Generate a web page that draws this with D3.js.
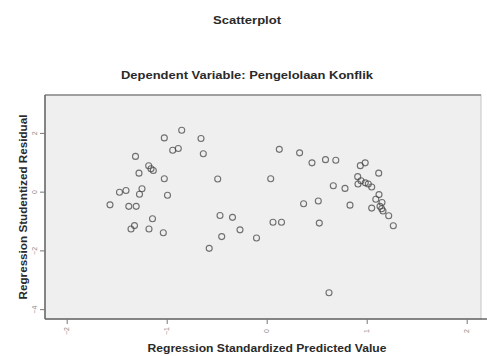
<!DOCTYPE html>
<html>
<head>
<meta charset="utf-8">
<script src="https://cdn.jsdelivr.net/npm/d3@7"></script>
<style>
  body { margin: 0; background: #fff; }
  text { font-family: Arial, "Liberation Sans", sans-serif; }
</style>
</head>
<body>
<svg id="chart" width="487" height="356"></svg>
<script>
// predicted (x) and studentized residual (y) values
const predicted = [
  -0.85, -1.024, -0.657, -0.884, -0.94, -0.634, -1.312, -1.18, -1.157, -1.134,
  -1.277, -1.024, -0.49, -1.247, -1.407, -1.472, -1.272, -0.992, -1.567, -1.379,
  -1.305, -1.142, -0.342, -0.267, -1.322, -1.357, -1.177, -1.034, -0.45, -0.575,
  -0.102, 0.623, 0.126, 0.329, 0.453, 0.588, 0.691, 0.985, 0.936, 1.12,
  0.04, 0.91, 0.943, 0.986, 1.016, 0.913, 1.05, 0.666, 0.783, 1.123,
  1.091, 1.153, 1.133, 1.05, 1.15, 1.163, 1.22, 1.266, 0.833, 0.516,
  0.369, 0.063, 0.148, 0.526, -0.467
];
const residual = [
  2.09, 1.83, 1.81, 1.47, 1.41, 1.29, 1.20, 0.88, 0.78, 0.72,
  0.63, 0.44, 0.43, 0.10, 0.04, -0.02, -0.09, -0.12, -0.45, -0.50,
  -0.50, -0.92, -0.875, -1.30, -1.156, -1.27, -1.27, -1.40, -1.53, -1.93,
  -1.58, -3.44, 1.44, 1.32, 0.98, 1.09, 1.07, 0.98, 0.885, 0.63,
  0.44, 0.51, 0.37, 0.30, 0.26, 0.26, 0.16, 0.20, 0.11, -0.10,
  -0.26, -0.37, -0.50, -0.56, -0.58, -0.66, -0.82, -1.16, -0.46, -0.32,
  -0.41, -1.04, -1.04, -1.07, -0.81
];
const xTicks = [-2, -1, 0, 1, 2];
const yTicks = [2, 0, -2, -4];

const svg = d3.select('#chart');
const plotLeft = 45, plotRight = 481, plotTop = 95, plotBottom = 319;

const x = d3.scaleLinear().domain([-2.217, 2.143]).range([plotLeft, plotRight]);
const y = d3.scaleLinear().domain([-4.335, 3.29]).range([plotBottom, plotTop]);

// helper for the bold labels, squeezed/stretched to the measured width
function label(sel, txt, size, len) {
  return sel.append('text')
    .attr('text-anchor', 'middle')
    .attr('font-size', size).attr('font-weight', 'bold').attr('fill', '#2a2a2a')
    .attr('textLength', len).attr('lengthAdjust', 'spacingAndGlyphs')
    .text(txt);
}

// titles
label(svg, 'Scatterplot', 10.5, 68).attr('x', 247).attr('y', 24);
label(svg, 'Dependent Variable: Pengelolaan Konflik', 11, 252).attr('x', 247).attr('y', 79);

// plot frame
svg.append('rect')
  .attr('x', plotLeft).attr('y', plotTop)
  .attr('width', plotRight - plotLeft).attr('height', plotBottom - plotTop)
  .attr('fill', '#efefef')
  .attr('stroke', '#c4c4c4').attr('stroke-width', 1);

svg.append('line')
  .attr('x1', plotLeft).attr('x2', plotRight).attr('y1', plotTop).attr('y2', plotTop)
  .attr('stroke', '#8a8a8a').attr('stroke-width', 1.5);

// axes
const xAxis = svg.append('g')
  .attr('transform', `translate(0,${plotBottom})`)
  .call(d3.axisBottom(x).tickValues(xTicks).tickSize(5).tickFormat(d3.format('d')));
xAxis.select('.domain').attr('stroke', '#666').attr('stroke-width', 1.5)
  .attr('d', `M${plotLeft},0H487`);
xAxis.selectAll('.tick line').attr('stroke', '#777');
xAxis.selectAll('.tick text')
  .attr('font-size', 7).attr('fill', '#8c8c8c')
  .attr('transform', 'rotate(-90)')
  .attr('x', -12).attr('y', 0).attr('dy', '0.32em')
  .attr('text-anchor', 'middle');

const yAxis = svg.append('g')
  .attr('transform', `translate(${plotLeft},0)`)
  .call(d3.axisLeft(y).tickValues(yTicks).tickSize(5).tickFormat(d3.format('d')));
yAxis.select('.domain').attr('stroke', '#666').attr('stroke-width', 1.5)
  .attr('d', `M0,${plotTop}V${plotBottom}`);
yAxis.selectAll('.tick line').attr('stroke', '#777');
yAxis.selectAll('.tick text')
  .attr('font-size', 7).attr('fill', '#8c8c8c')
  .attr('transform', 'rotate(-90)')
  .attr('x', 0).attr('y', -10)
  .attr('text-anchor', 'middle');

// axis titles
label(svg, 'Regression Standardized Predicted Value', 10.5, 239).attr('x', 267).attr('y', 352);
label(svg, 'Regression Studentized Residual', 10.5, 185)
  .attr('transform', 'translate(27,207) rotate(-90)');

// points
svg.append('g')
  .selectAll('circle')
  .data(d3.range(predicted.length))
  .join('circle')
  .attr('cx', i => x(predicted[i]))
  .attr('cy', i => y(residual[i]))
  .attr('r', 3)
  .attr('fill', 'none')
  .attr('stroke', '#444')
  .attr('stroke-opacity', 0.75)
  .attr('stroke-width', 1.1);
</script>
</body>
</html>
